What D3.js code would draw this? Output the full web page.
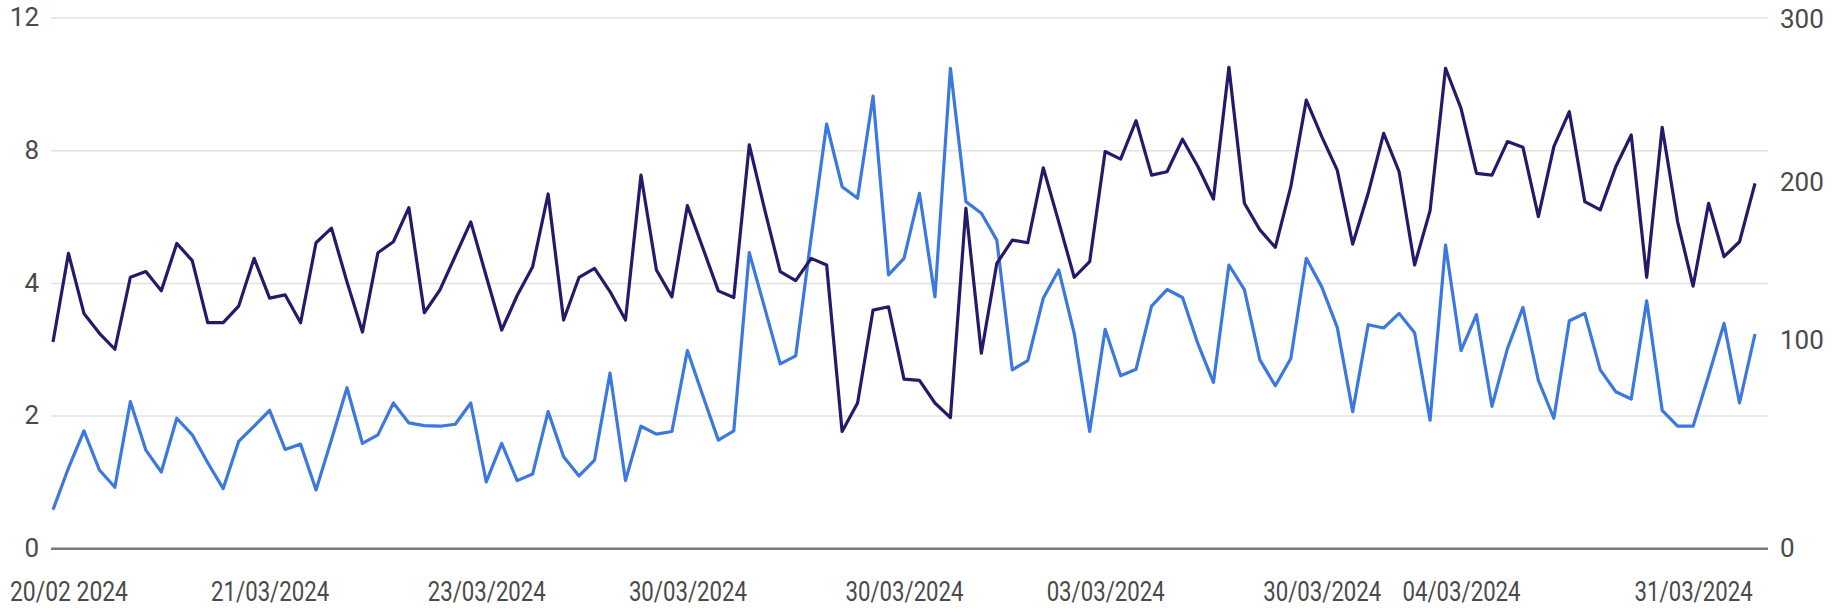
<!DOCTYPE html>
<html>
<head>
<meta charset="utf-8">
<script src="https://cdn.jsdelivr.net/npm/d3@7/dist/d3.min.js"></script>
<style>
  body { margin: 0; background: #fff; }
  svg text { font-family: Roboto, "Liberation Sans", sans-serif; fill: #4a4a4a; }
</style>
</head>
<body>
<div id="chart"></div>
<script>
// Dark series (left axis units), one value per point
var darkValues = [3.11, 4.89, 3.54, 3.24, 3.00, 4.17, 4.34, 3.88, 5.19, 4.67,
    3.40, 3.40, 3.65, 4.74, 3.77, 3.82, 3.40, 5.21, 5.65, 4.03,
    3.26, 4.91, 5.24, 6.27, 3.55, 3.89, 4.81, 5.84, 4.20, 3.29,
    3.81, 4.49, 6.68, 3.44, 4.17, 4.44, 3.87, 3.44, 7.25, 4.39,
    3.79, 6.33, 5.05, 3.88, 3.78, 8.16, 6.20, 4.34, 4.07, 4.74,
    4.54, 1.76, 2.19, 3.59, 3.64, 2.55, 2.53, 2.19, 1.97, 6.25,
    2.94, 4.59, 5.29, 5.21, 7.47, 5.84, 4.17, 4.64, 7.96, 7.73,
    8.89, 7.25, 7.35, 8.33, 7.50, 6.53, 10.50, 6.40, 5.60, 5.07,
    6.90, 9.51, 8.41, 7.40, 5.17, 6.70, 8.51, 7.35, 4.54, 6.18,
    10.47, 9.26, 7.30, 7.25, 8.26, 8.09, 6.00, 8.11, 9.16, 6.45,
    6.20, 7.50, 8.46, 4.17, 8.69, 5.84, 3.95, 6.40, 4.79, 5.24,
    7.00];

// Light blue series (left axis units)
var blueValues = [0.58, 1.21, 1.77, 1.18, 0.92, 2.21, 1.48, 1.15, 1.96, 1.71,
    1.29, 0.90, 1.61, 1.84, 2.08, 1.49, 1.57, 0.88, 1.64, 2.42,
    1.58, 1.71, 2.19, 1.89, 1.85, 1.84, 1.87, 2.19, 1.00, 1.58,
    1.02, 1.12, 2.06, 1.38, 1.09, 1.33, 2.64, 1.02, 1.84, 1.72,
    1.76, 2.98, 2.30, 1.63, 1.77, 4.91, 3.62, 2.78, 2.90, 5.37,
    8.79, 6.90, 6.55, 9.63, 4.24, 4.74, 6.70, 3.79, 10.47, 6.45,
    6.10, 5.29, 2.69, 2.83, 3.77, 4.39, 3.24, 1.76, 3.30, 2.60,
    2.70, 3.65, 3.90, 3.78, 3.08, 2.50, 4.54, 3.90, 2.84, 2.45,
    2.86, 4.74, 3.94, 3.33, 2.06, 3.37, 3.32, 3.54, 3.25, 1.93,
    5.14, 2.98, 3.52, 2.14, 3.01, 3.63, 2.53, 1.96, 3.43, 3.54,
    2.69, 2.36, 2.25, 3.73, 2.08, 1.84, 1.84, 2.60, 3.39, 2.19,
    3.23];

// Axis ticks as printed on the chart
var leftTicks = [0, 2, 4, 8, 12];
var rightTicks = [0, 100, 200, 300];
var dateLabels = ["20/02 2024", "21/03/2024", "23/03/2024", "30/03/2024", "30/03/2024",
    "03/03/2024", "30/03/2024", "04/03/2024", "31/03/2024"];
var dateLabelIndex = [1, 14, 28, 41, 55, 68, 82, 91, 106];

var width = 1837,
    height = 613,
    gridLeft = 51,
    gridRight = 1768,
    lineLeft = 53,
    lineRight = 1755,
    plotTop = 17.5,
    plotBottom = 548.3;

var svg = d3.select("#chart")
    .append("svg")
    .attr("width", width)
    .attr("height", height);

var x = d3.scaleLinear()
    .domain([0, darkValues.length - 1])
    .range([lineLeft, lineRight]);

// left labels are evenly spaced although the values are not
var step = (plotBottom - plotTop) / (leftTicks.length - 1);
var yLeft = d3.scaleLinear()
    .domain(leftTicks)
    .range(leftTicks.map((d, i) => plotBottom - i * step));

// right labels sit at their own uneven heights
var plotH = plotBottom - plotTop;
var yRight = d3.scaleLinear()
    .domain(rightTicks)
    .range([plotBottom, plotBottom - plotH * 0.392, plotBottom - plotH * 0.69, plotTop + 2]);

// gridlines
var grid = svg.append("g")
    .attr("transform", "translate(" + gridLeft + ",0)")
    .call(d3.axisLeft(yLeft).tickValues(leftTicks).tickSize(-(gridRight - gridLeft)).tickFormat(""));
grid.select(".domain").remove();
grid.selectAll(".tick line")
    .attr("stroke", d => d === 0 ? "#7a7a7a" : "#e2e2e2")
    .attr("stroke-width", d => d === 0 ? 2.5 : 1.5);

// left axis labels
var leftAxis = svg.append("g")
    .attr("transform", "translate(" + gridLeft + ",0)")
    .call(d3.axisLeft(yLeft).tickValues(leftTicks).tickSize(0).tickPadding(12));
leftAxis.select(".domain").remove();
leftAxis.selectAll("text").style("font-size", "26px").attr("fill", "#4a4a4a");

// right axis labels
var rightAxis = svg.append("g")
    .attr("transform", "translate(" + gridRight + ",0)")
    .call(d3.axisRight(yRight).tickValues(rightTicks).tickSize(0).tickPadding(12));
rightAxis.select(".domain").remove();
rightAxis.selectAll("text").style("font-size", "26px").attr("fill", "#4a4a4a");

// date labels
var xAxis = svg.append("g")
    .attr("transform", "translate(0," + plotBottom + ")")
    .call(d3.axisBottom(x)
        .tickValues(dateLabelIndex)
        .tickSize(0)
        .tickPadding(33)
        .tickFormat((d, i) => dateLabels[i]));
xAxis.select(".domain").remove();
xAxis.selectAll("text")
    .style("font-size", "28px")
    .attr("fill", "#4a4a4a")
    .attr("textLength", 118)
    .attr("lengthAdjust", "spacingAndGlyphs");

var line = d3.line()
    .x((d, i) => x(i))
    .y(d => yLeft(d));

svg.append("path")
    .datum(blueValues)
    .attr("d", line)
    .attr("fill", "none")
    .attr("stroke", "#3b78df")
    .attr("stroke-width", 3.2)
    .attr("stroke-linejoin", "round");

svg.append("path")
    .datum(darkValues)
    .attr("d", line)
    .attr("fill", "none")
    .attr("stroke", "#28186a")
    .attr("stroke-width", 3.2)
    .attr("stroke-linejoin", "round");
</script>
</body>
</html>
